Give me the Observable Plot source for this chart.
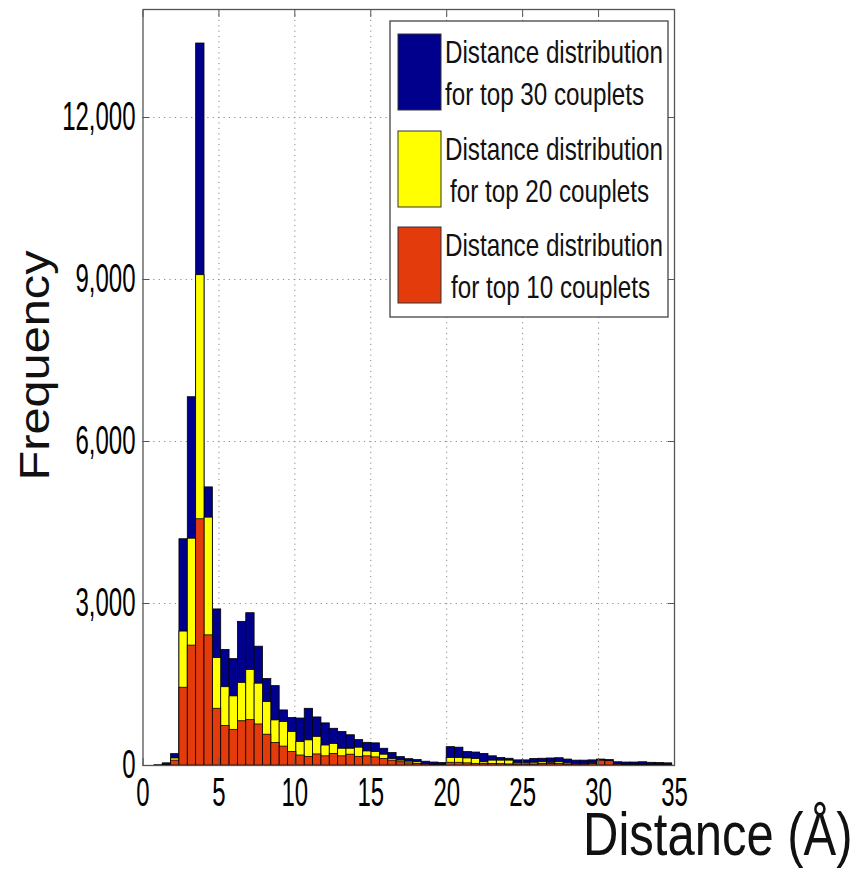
<!DOCTYPE html>
<html><head><meta charset="utf-8">
<script src="https://cdn.jsdelivr.net/npm/d3@7"></script>
<script src="https://cdn.jsdelivr.net/npm/@observablehq/plot@0.6"></script>
<style>body{margin:0;background:#fff} #chart svg{display:block}</style>
</head><body><div id="chart"></div>
<script>
// Histogram bins: first edge and width (Å)
const binStart = 0.2;
const binWidth = 0.55;

// Frequencies per bin
const top30 = [0,5,40,210,4190,6820,13370,5150,2890,2140,1970,2660,2820,2200,1600,1470,1020,880,870,1050,890,780,680,620,560,470,420,410,310,230,155,117,100,70,55,45,340,330,250,240,215,170,140,125,95,95,120,125,130,135,110,90,90,95,110,100,60,55,55,60,50,45,40];
const top20 = [0,0,20,130,2480,4200,9080,4590,1990,1450,1280,1530,1770,1515,1175,835,805,620,435,465,530,370,400,310,310,330,260,250,200,120,90,70,60,30,20,20,140,140,130,120,60,90,90,90,40,40,50,60,50,60,40,30,30,40,60,50,20,20,20,20,15,15,10];
const top10 = [0,0,10,90,1440,2220,4560,2410,1050,730,660,820,840,760,570,415,350,250,185,160,205,170,215,170,200,160,170,150,120,90,60,40,30,20,10,10,50,50,40,30,30,30,25,20,20,20,20,30,30,30,20,20,20,30,90,80,20,15,15,15,10,10,10];

const xTicks = [0,5,10,15,20,25,30,35];
const yTicks = [0,3000,6000,9000,12000];
const seriesColors = ["#00008c","#ffff00","#e33b0c"];
const legendLines = [
  ["Distance distribution","for top 30 couplets"],
  ["Distance distribution","for top 20 couplets"],
  ["Distance distribution","for top 10 couplets"]
];
const xLabel = "Distance (Å)";
const yLabel = "Frequency";

function toBins(values, s) {
  return values.map((v, k) => ({
    x1: +(binStart + k * binWidth).toFixed(3),
    x2: +(binStart + (k + 1) * binWidth).toFixed(3),
    y: v, s
  }));
}
const series = [toBins(top30, 0), toBins(top20, 1), toBins(top10, 2)];

const font = "'Liberation Sans', Arial, Helvetica, sans-serif";
const chart = Plot.plot({
  width: 860, height: 872,
  marginLeft: 142.5, marginRight: 186, marginTop: 9, marginBottom: 107,
  style: {fontFamily: font, background: "#fff", color: "#000"},
  x: {domain: [0, 35], label: null},
  y: {domain: [0, 14000], label: null},
  marks: [
    Plot.gridX(xTicks.slice(1, -1), {stroke: "#888", strokeOpacity: 1, strokeDasharray: "1.2,4.2", strokeWidth: 1}),
    Plot.gridY(yTicks.slice(1), {stroke: "#888", strokeOpacity: 1, strokeDasharray: "1.2,4.2", strokeWidth: 1}),
    ...series.map((d, i) => Plot.rectY(d, {x1: "x1", x2: "x2", y: "y", fill: seriesColors[i], stroke: "#000", strokeWidth: 0.8})),
    Plot.frame({stroke: "#555", strokeWidth: 1.3}),
    Plot.axisY({ticks: yTicks, anchor: "left", tickSize: -7, tickPadding: 14.5, fontSize: 40, tickFormat: d3.format(","), label: null, stroke: "#555"}),
    Plot.axisY({ticks: yTicks, anchor: "right", tickSize: -7, tickFormat: () => "", label: null, stroke: "#555"}),
    Plot.axisX({ticks: xTicks, anchor: "bottom", tickSize: -7, tickPadding: 19, fontSize: 40, label: null, stroke: "#555"}),
    Plot.axisX({ticks: xTicks, anchor: "top", tickSize: -7, tickFormat: () => "", label: null, stroke: "#555"}),
    Plot.text([yLabel], {frameAnchor: "left", rotate: -90, dx: -107.5, dy: -22, fontSize: 42, textAnchor: "middle", lineAnchor: "middle", fill: "#111"}),
    Plot.text([xLabel], {frameAnchor: "bottom-right", dx: 178, dy: 70, fontSize: 62, textAnchor: "end", lineAnchor: "middle", fill: "#111"})
  ]
});
document.getElementById("chart").appendChild(chart);

const svg = d3.select(chart);
function squeezeNodes(nodes, sx) {
  nodes.forEach(node => {
    const t = node.getAttribute("transform") || "";
    node.setAttribute("transform", `${t} scale(${sx},1)`);
  });
}
squeezeNodes(svg.selectAll('g[aria-label="y-axis tick label"] text').nodes(), 0.6);
squeezeNodes(svg.selectAll('g[aria-label="x-axis tick label"] text').nodes(), 0.6);
const allText = svg.selectAll("text").nodes();
squeezeNodes(allText.filter(n => n.textContent === yLabel), 1.16);
squeezeNodes(allText.filter(n => n.textContent === xLabel), 0.79);

// Legend (inside the axes, top right)
const lg = svg.append("g").attr("aria-label", "legend").attr("text-anchor", "start");
lg.append("rect").attr("x", 390).attr("y", 21).attr("width", 278).attr("height", 296)
  .attr("fill", "#fff").attr("stroke", "#444").attr("stroke-width", 1.3);
const entryTop = [34, 131, 227];
const line2Shift = [0, 5, 6];
legendLines.forEach((lines, i) => {
  lg.append("rect").attr("x", 398).attr("y", entryTop[i]).attr("width", 43).attr("height", 76)
    .attr("fill", seriesColors[i]).attr("stroke", "#333").attr("stroke-width", 1);
  lines.forEach((txt, j) => {
    lg.append("text")
      .attr("text-anchor", "start")
      .attr("transform", `translate(${445 + (j ? line2Shift[i] : 0)},${entryTop[i] + 29 + j * 42}) scale(0.757,1)`)
      .attr("font-family", font).attr("font-size", 32).attr("fill", "#111")
      .text(txt);
  });
});
</script>
</body></html>
